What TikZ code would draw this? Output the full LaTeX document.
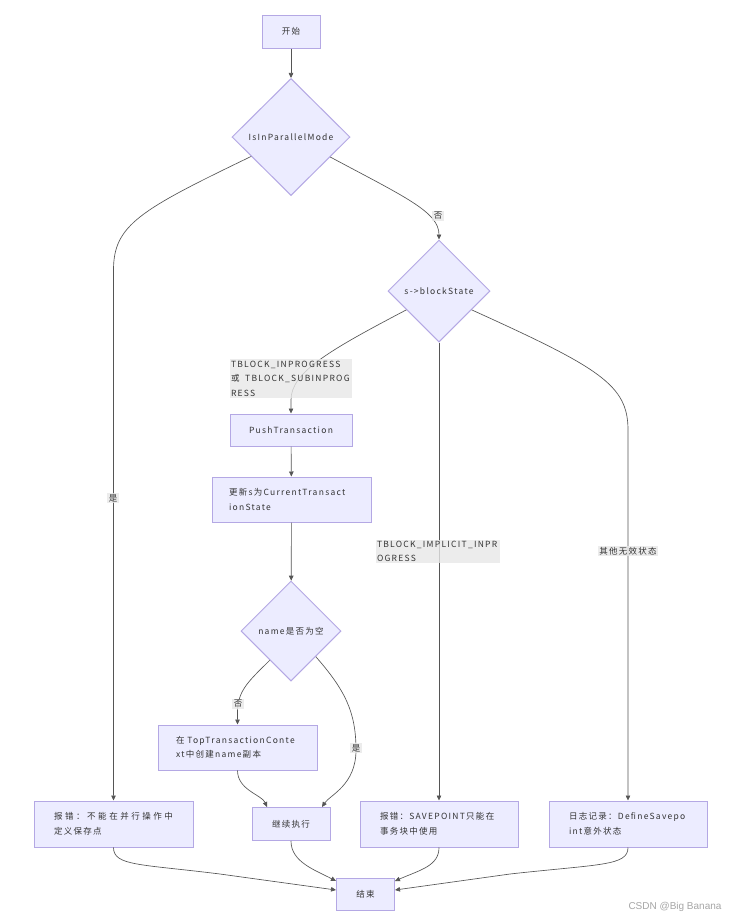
\documentclass[tikz,border=0pt]{standalone}
\usepackage{fontspec}
\setmainfont{Noto Sans CJK SC}[LetterSpace=15]
\newfontfamily\wmfont{Liberation Sans}
\usetikzlibrary{shapes.geometric,arrows.meta}
\definecolor{nodefill}{HTML}{ECECFF}
\definecolor{nodeborder}{HTML}{B4A8E4}
\definecolor{textc}{HTML}{333333}
\definecolor{linec}{HTML}{555555}
\definecolor{lblfill}{HTML}{E8E8E8}
\begin{document}
\begin{tikzpicture}[x=1pt,y=-1pt,
 every node/.style={font=\fontsize{8.5}{14.5}\selectfont, text=textc},
 box/.style={draw=nodeborder, fill=nodefill, line width=1pt, inner sep=0pt, align=center},
 dia/.style={diamond, draw=nodeborder, fill=nodefill, line width=1pt, inner sep=0pt, aspect=1},
 arr/.style={draw=linec, line width=0.65pt, -{Triangle[length=5pt,width=4.5pt]}},
 lbl/.style={fill=lblfill, fill opacity=0.8, text opacity=1, inner sep=1.5pt}]
\useasboundingbox[fill=white] (0,0) rectangle (748,919);
% nodes
\node[box, minimum width=58, minimum height=33] (start) at (291,31.5) {开始};
\node[dia, minimum width=118, minimum height=117] (d1) at (291,137) {IsInParallelMode};
\node[dia, minimum width=102, minimum height=102] (d2) at (439,291) {s->blockState};
\node[box, minimum width=122, minimum height=32] (push) at (291,430) {PushTransaction};
\node[box, text width=125, inner xsep=17, minimum height=45, align=left] (upd) at (291.5,499.5) {更新s为CurrentTransact\\ionState};
\node[dia, minimum width=100, minimum height=100] (d3) at (291,631) {name是否为空};
\node[box, text width=123, inner xsep=18, minimum height=45, align=left] (create) at (237.5,747.5) {\makebox[123pt][l]{在 TopTransactionConte}\\xt中创建name副本};
\node[box, minimum width=78, minimum height=33] (cont) at (291,824) {继续执行};
\node[box, text width=119, inner xsep=20, minimum height=46, align=left] (err1) at (113.5,824) {\makebox[119pt][s]{报\hfil 错\hfil ：\hfil 不\hfil 能\hfil 在\hfil 并\hfil 行\hfil 操\hfil 作\hfil 中}\\定义保存点};
\node[box, text width=118, inner xsep=20, minimum height=46, align=left] (err2) at (439,824) {\makebox[118pt][l]{报错：SAVEPOINT只能在}\\事务块中使用};
\node[box, text width=118, inner xsep=20, minimum height=46, align=left] (log) at (628,824) {\makebox[118pt][l]{日志记录：DefineSavepo}\\int意外状态};
\node[box, minimum width=58, minimum height=32] (end) at (365.5,894) {结束};
% edges
\draw[arr] (start) -- (d1);
\draw[arr] (d1.206) .. controls (140,210) and (113.5,225) .. (113.5,270) -- (err1.north);
\draw[arr] (d1.333) .. controls (405,197) and (439,212) .. (d2.north);
\draw[arr] (d2.210) .. controls (330,350) and (291,372) .. (291,400) -- (push.north);
\draw[arr] (d2) -- (err2);
\draw[arr] (d2.330) .. controls (600,368) and (628,385) .. (628,430) -- (log.north);
\draw[arr] (push) -- (upd);
\draw[arr] (upd) -- (d3);
\draw[arr] (d3.234) .. controls (250,680) and (237.5,690) .. (237.5,712) -- (create.north);
\draw[arr] (d3.314) .. controls (345,690) and (356,712) .. (356,750) .. controls (356,785) and (330,795) .. ([xshift=31pt]cont.north);
\draw[arr] (create.south) .. controls (237.5,790) and (262,795) .. ([xshift=-24pt]cont.north);
\draw[arr] (cont.south) .. controls (291,862) and (315,870) .. ([yshift=13pt]end.west);
\draw[arr] (err1.south) .. controls (113.5,866) and (140,864) .. (220,874) -- ([yshift=4pt]end.west);
\draw[arr] (err2.south) .. controls (439,866) and (420,870) .. ([yshift=13pt]end.east);
\draw[arr] (log.south) .. controls (628,866) and (600,864) .. (510,874) -- ([yshift=4pt]end.east);
% labels
\node[lbl] (l1) at (113,498) {是};
\node[lbl] (l2) at (438,216) {否};
\node[lbl, text width=120, inner xsep=1, align=left] (l3) at (291,378.5) {TBLOCK\_INPROGRESS\\或~~TBLOCK\_SUBINPROG\\RESS};
\node[lbl, text width=122, inner xsep=1, align=left] (l4) at (438,551.5) {TBLOCK\_IMPLICIT\_INPR\\OGRESS};
\node[lbl] (l5) at (628,551) {其他无效状态};
\node[lbl] (l6) at (238,704) {否};
\node[lbl] (l7) at (356,748) {是};
\node[font=\wmfont\fontsize{10}{12}\selectfont, text=black!35] (wm) at (675,907) {CSDN @Big Banana};
\end{tikzpicture}
\end{document}
